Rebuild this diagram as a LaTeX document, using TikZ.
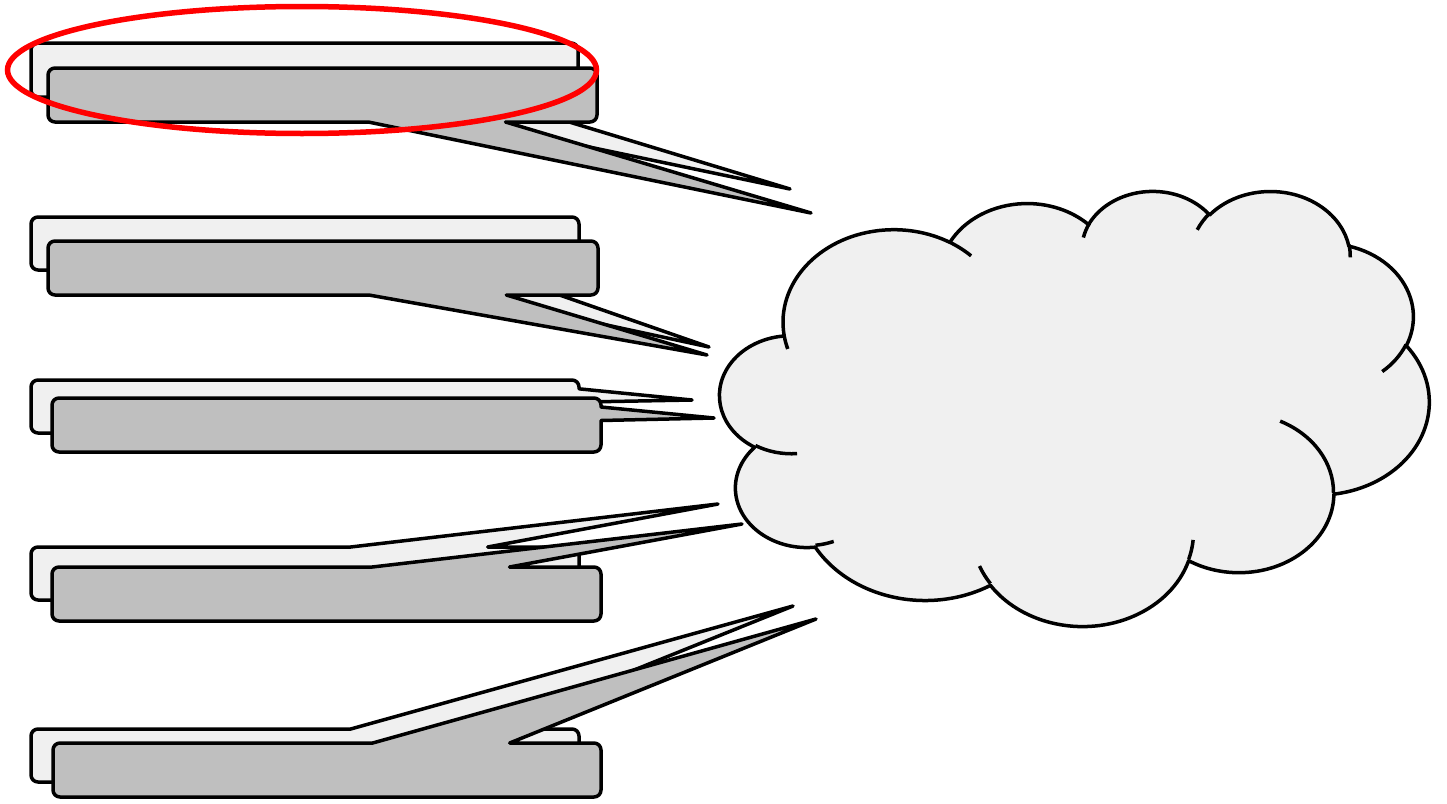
\documentclass[tikz,border=0pt]{standalone}
\usepackage{xcolor}
\usepackage{tikz}
\usetikzlibrary{calc}
\definecolor{notelight}{HTML}{F0F0F0}
\definecolor{notedark}{HTML}{BFBFBF}
\definecolor{ringred}{HTML}{FF0000}
% rounded note box, wedge on the bottom edge
\newcommand{\notebelow}[6]{%
  \filldraw[outline,fill=#1] ({#2+7},#3) -- ({#4-7},#3)
    arc[start angle=270,end angle=360,radius=7] -- (#4,{#5-7})
    arc[start angle=0,end angle=90,radius=7]
    -- ({#2+(#4-#2)*10/12},#5) -- (#6) -- ({#2+(#4-#2)*7/12},#5)
    -- ({#2+7},#5) arc[start angle=90,end angle=180,radius=7]
    -- (#2,{#3+7}) arc[start angle=180,end angle=270,radius=7] -- cycle;
}
% wedge on the top edge
\newcommand{\noteabove}[6]{%
  \filldraw[outline,fill=#1] ({#2+7},#3)
    -- ({#2+(#4-#2)*7/12},#3) -- (#6) -- ({#2+(#4-#2)*10/12},#3)
    -- ({#4-7},#3) arc[start angle=270,end angle=360,radius=7]
    -- (#4,{#5-7}) arc[start angle=0,end angle=90,radius=7]
    -- ({#2+7},#5) arc[start angle=90,end angle=180,radius=7]
    -- (#2,{#3+7}) arc[start angle=180,end angle=270,radius=7] -- cycle;
}
% wedge on the right edge
\newcommand{\noteside}[6]{%
  \filldraw[outline,fill=#1] ({#2+7},#3) -- ({#4-7},#3)
    arc[start angle=270,end angle=360,radius=7]
    -- (#4,{#3+(#5-#3)*2/12}) -- (#6) -- (#4,{#3+(#5-#3)*5/12})
    -- (#4,{#5-7}) arc[start angle=0,end angle=90,radius=7]
    -- ({#2+7},#5) arc[start angle=90,end angle=180,radius=7]
    -- (#2,{#3+7}) arc[start angle=180,end angle=270,radius=7] -- cycle;
}
% one puff of the cloud: x radius, y radius, start and sweep as seen
\newcommand{\puff}[4]{%
  arc[x radius=#1,y radius=#2,
      start angle={atan2(#1*sin(#3),#2*cos(#3))},
      delta angle={mod(atan2(#1*sin(#3+#4),#2*cos(#3+#4))-atan2(#1*sin(#3),#2*cos(#3))+720,360)}]
}

\begin{document}
\begin{tikzpicture}[x=1pt,y=-1pt,
    outline/.style={draw=black,line width=3.5pt,line join=round}]
  \useasboundingbox (0,0) rectangle (1447,803);

  \notebelow{notelight}{31}{43}{578}{97}{790,189}
  \notebelow{notedark}{48}{68}{597}{122}{811,213}
  \notebelow{notelight}{31}{217}{579}{270}{709,347}
  \notebelow{notedark}{48}{241}{598}{295}{707,355}
  \noteside{notelight}{31}{380}{579}{433}{692,400}
  \noteside{notedark}{52}{398}{601}{452}{714,418}
  \noteabove{notelight}{31}{547}{579}{600}{718,504}
  \noteabove{notedark}{52}{567}{601}{621}{742,524}
  \noteabove{notelight}{31}{729}{579}{782}{793,606}
  \noteabove{notedark}{53}{743}{601}{797}{816,619}

  % cloud
  \begin{scope}[shift={(720,190)},x=0.16412pt,y=-0.10069pt]
    \filldraw[outline,fill=notelight] (390,1437)
      \puff{675.3}{919.0}{-190.4875}{123.7805}
      \puff{533.3}{726.7}{-144.1024}{89.9452}
      \puff{436.5}{594.5}{-145.8079}{99.7230}
      \puff{485.7}{659.5}{-130.9861}{117.2417}
      \puff{533.3}{727.3}{-78.7089}{109.0269}
      \puff{677.5}{922.0}{-46.2673}{130.2690}
      \puff{578.5}{786.7}{0.6250}{114.0333}
      \puff{675.2}{921.5}{22.4516}{115.1726}
      \puff{772.0}{1054.3}{66.2426}{75.7110}
      \puff{436.0}{591.8}{-274.9421}{146.7356}
      \puff{434.5}{594.5}{-246.8285}{152.5189} -- cycle;
    \draw[outline]
      (469.3,2617.7) \puff{434.5}{594.5}{86.7420}{26.4295}
      (692.8,3489.9) \puff{436.0}{591.8}{73.6105}{11.4475}
      (1647.8,3909.0) \puff{675.2}{921.5}{137.6242}{14.0811}
      (2882.7,3475.1) \puff{675.2}{921.5}{6.4533}{15.9984}
      (3412.9,2295.4) \puff{578.5}{786.7}{-70.2924}{70.9174}
      (4179.8,1535.4) \puff{533.3}{727.3}{30.3180}{27.7515}
      (3832.4,542.6) \puff{485.7}{659.5}{-13.7443}{14.8589}
      (2907.8,395.2) \puff{485.7}{659.5}{-149.1815}{18.1954}
      (2214.1,472.0) \puff{436.5}{594.5}{-163.4943}{17.6864}
      (1400.0,519.2) \puff{675.3}{919.0}{-66.7070}{12.3194}
      (412.7,1578.9) \puff{675.3}{919.0}{157.6544}{11.8582};
  \end{scope}

  \draw[ringred,line width=5.5pt] (302,70) ellipse[x radius=294.5,y radius=63.5];
\end{tikzpicture}
\end{document}
